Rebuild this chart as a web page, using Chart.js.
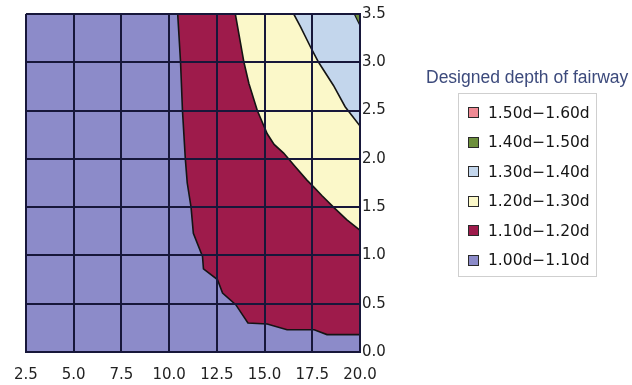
<!DOCTYPE html>
<html><head><meta charset="utf-8">
<script src="https://cdn.jsdelivr.net/npm/chart.js@4/dist/chart.umd.min.js"></script>
<style>
html,body{margin:0;padding:0;background:#fff;}
#wrap{position:relative;width:632px;height:385px;overflow:hidden;}
#c{position:absolute;left:0;top:0;}
#title{position:absolute;left:426px;top:67px;font-family:"Liberation Sans",Arial,sans-serif;font-size:17.5px;line-height:20px;color:#3c4a7c;white-space:nowrap;}
#legend{position:absolute;left:458px;top:93px;width:139px;height:184px;border:1px solid #cfcfcf;box-sizing:border-box;}
.item{position:absolute;left:9px;height:20px;font-family:"DejaVu Sans",sans-serif;font-size:15.5px;line-height:20px;color:#151515;display:flex;align-items:center;white-space:nowrap;}
.sw{width:11px;height:11px;box-sizing:border-box;border:1.5px solid #2a2a2a;margin-right:9px;flex:none;}
</style>
</head><body>
<div id="wrap">
<canvas id="c" width="632" height="385"></canvas>
<div id="title">Designed depth of fairway</div>
<div id="legend"></div>
</div>
<script>
// ---- axis ticks ----
const xTicks = [2.5, 5.0, 7.5, 10.0, 12.5, 15.0, 17.5, 20.0];
const yTicks = [0.0, 0.5, 1.0, 1.5, 2.0, 2.5, 3.0, 3.5];

// ---- legend classes (top to bottom) ----
const classLabels = ['1.50d\u22121.60d', '1.40d\u22121.50d', '1.30d\u22121.40d', '1.20d\u22121.30d', '1.10d\u22121.20d', '1.00d\u22121.10d'];
const classColors = ['#ef8a94', '#6d8f3c', '#c3d6ec', '#fbf8c9', '#9e1b4b', '#8c8bc9'];

// ---- contour boundaries, from top edge to right edge ----
const c110X = [10.45, 10.60, 10.70, 10.85, 10.95, 11.15, 11.27, 11.75, 11.80, 12.53, 12.80, 13.49, 14.13, 15.14, 16.18, 17.60, 18.27, 20.00];
const c110Y = [3.50, 3.00, 2.50, 2.00, 1.75, 1.50, 1.23, 0.99, 0.86, 0.75, 0.61, 0.49, 0.30, 0.29, 0.23, 0.23, 0.18, 0.18];

const c120X = [13.47, 13.92, 14.18, 14.62, 15.14, 15.50, 16.00, 16.60, 17.22, 17.57, 18.00, 18.61, 19.30, 20.00];
const c120Y = [3.50, 3.00, 2.78, 2.50, 2.26, 2.15, 2.06, 1.92, 1.78, 1.71, 1.62, 1.50, 1.37, 1.26];

const c130X = [16.53, 16.88, 17.48, 17.83, 18.61, 19.22, 20.00];
const c130Y = [3.50, 3.37, 3.13, 3.00, 2.76, 2.54, 2.34];

const c140X = [19.70, 20.00];
const c140Y = [3.50, 3.38];

// ---- build polygons ----
const xMin = xTicks[0], xMax = xTicks[xTicks.length - 1];
const yMin = yTicks[0], yMax = yTicks[yTicks.length - 1];

function region(xs, ys) {
  const pts = xs.map((x, i) => ({x: x, y: ys[i]}));
  pts.push({x: xMax, y: yMax});
  pts.push({x: xs[0], y: ys[0]});
  return pts;
}
const basePts = [{x: xMin, y: yMin}, {x: xMax, y: yMin}, {x: xMax, y: yMax}, {x: xMin, y: yMax}, {x: xMin, y: yMin}];

function ds(label, data, color, order, bw) {
  return {label: label, data: data, showLine: true, fill: 'shape', backgroundColor: color,
    borderColor: '#141414', borderWidth: bw, pointRadius: 0, pointHoverRadius: 0, tension: 0, order: order};
}

const datasets = [
  ds(classLabels[5], basePts, classColors[5], 10, 0),
  ds(classLabels[4], region(c110X, c110Y), classColors[4], 9, 1.6),
  ds(classLabels[3], region(c120X, c120Y), classColors[3], 8, 1.6),
  ds(classLabels[2], region(c130X, c130Y), classColors[2], 7, 1.6),
  ds(classLabels[1], region(c140X, c140Y), classColors[1], 6, 1.2)
];

const gridCol = '#17173a';
const tickFont = {family: 'DejaVu Sans', size: 15};

new Chart(document.getElementById('c'), {
  type: 'scatter',
  data: {datasets: datasets},
  options: {
    responsive: false, animation: false, devicePixelRatio: 1,
    layout: {padding: {top: 14, left: 24, right: 232, bottom: 0}},
    plugins: {legend: {display: false}, tooltip: {enabled: false}},
    scales: {
      x: {
        type: 'linear', position: 'bottom', min: xMin, max: xMax, z: 1,
        afterBuildTicks: s => { s.ticks = xTicks.map(v => ({value: v})); },
        afterFit: s => { s.height = 33; },
        ticks: {callback: v => Number(v).toFixed(1), font: tickFont, color: '#222', padding: 14, maxRotation: 0, autoSkip: false},
        grid: {color: gridCol, lineWidth: 2, drawTicks: false, z: 1},
        border: {color: gridCol, width: 2, z: 1}
      },
      y: {
        type: 'linear', position: 'right', min: yMin, max: yMax, z: 1,
        afterBuildTicks: s => { s.ticks = yTicks.map(v => ({value: v})); },
        afterFit: s => { s.width = 40; },
        ticks: {callback: v => Number(v).toFixed(1), font: tickFont, color: '#222', padding: 2, autoSkip: false},
        grid: {color: gridCol, lineWidth: 2, drawTicks: false, z: 1},
        border: {color: gridCol, width: 2, z: 1}
      }
    }
  }
});

// ---- HTML legend ----
const leg = document.getElementById('legend');
classLabels.forEach((lab, i) => {
  const it = document.createElement('div');
  it.className = 'item';
  it.style.top = (8.5 + i * 29.5) + 'px';
  const sw = document.createElement('span');
  sw.className = 'sw';
  sw.style.background = classColors[i];
  const tx = document.createElement('span');
  tx.textContent = lab;
  it.appendChild(sw); it.appendChild(tx);
  leg.appendChild(it);
});
</script>
</body></html>
